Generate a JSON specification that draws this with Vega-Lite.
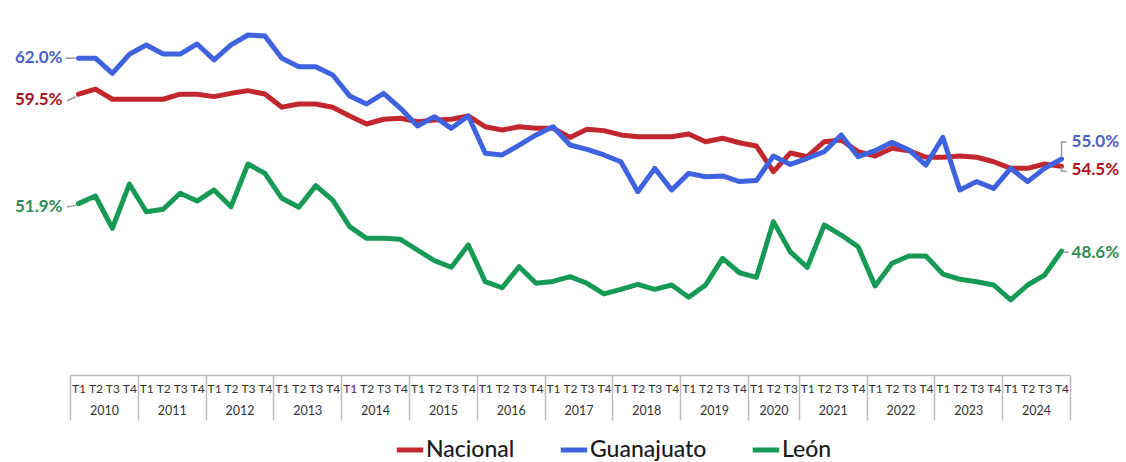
{
  "$schema": "https://vega.github.io/schema/vega-lite/v6.json",
  "width": 1000,
  "height": 360,
  "autosize": "none",
  "padding": {"left": 70, "top": 15, "right": 56, "bottom": 87},
  "background": "white",
  "config": {"view": {"stroke": null}, "font": "Lato"},
  "data": {"values": [
    {"s":"Nacional","i":0,"v":0.595},{"s":"Nacional","i":1,"v":0.5985},{"s":"Nacional","i":2,"v":0.5915},{"s":"Nacional","i":3,"v":0.5915},{"s":"Nacional","i":4,"v":0.5915},{"s":"Nacional","i":5,"v":0.5915},{"s":"Nacional","i":6,"v":0.595},{"s":"Nacional","i":7,"v":0.595},{"s":"Nacional","i":8,"v":0.5933},{"s":"Nacional","i":9,"v":0.5956},
    {"s":"Nacional","i":10,"v":0.5975},{"s":"Nacional","i":11,"v":0.5951},{"s":"Nacional","i":12,"v":0.586},{"s":"Nacional","i":13,"v":0.5882},{"s":"Nacional","i":14,"v":0.5882},{"s":"Nacional","i":15,"v":0.5859},{"s":"Nacional","i":16,"v":0.5799},{"s":"Nacional","i":17,"v":0.5743},{"s":"Nacional","i":18,"v":0.5776},{"s":"Nacional","i":19,"v":0.5783},
    {"s":"Nacional","i":20,"v":0.5759},{"s":"Nacional","i":21,"v":0.5771},{"s":"Nacional","i":22,"v":0.5776},{"s":"Nacional","i":23,"v":0.5799},{"s":"Nacional","i":24,"v":0.5724},{"s":"Nacional","i":25,"v":0.5701},{"s":"Nacional","i":26,"v":0.5724},{"s":"Nacional","i":27,"v":0.5713},{"s":"Nacional","i":28,"v":0.5713},{"s":"Nacional","i":29,"v":0.565},
    {"s":"Nacional","i":30,"v":0.5706},{"s":"Nacional","i":31,"v":0.5697},{"s":"Nacional","i":32,"v":0.5667},{"s":"Nacional","i":33,"v":0.5655},{"s":"Nacional","i":34,"v":0.5655},{"s":"Nacional","i":35,"v":0.5655},{"s":"Nacional","i":36,"v":0.5674},{"s":"Nacional","i":37,"v":0.562},{"s":"Nacional","i":38,"v":0.5644},{"s":"Nacional","i":39,"v":0.5613},
    {"s":"Nacional","i":40,"v":0.559},{"s":"Nacional","i":41,"v":0.5412},{"s":"Nacional","i":42,"v":0.5542},{"s":"Nacional","i":43,"v":0.5516},{"s":"Nacional","i":44,"v":0.562},{"s":"Nacional","i":45,"v":0.5632},{"s":"Nacional","i":46,"v":0.5551},{"s":"Nacional","i":47,"v":0.5521},{"s":"Nacional","i":48,"v":0.5574},{"s":"Nacional","i":49,"v":0.5558},
    {"s":"Nacional","i":50,"v":0.5512},{"s":"Nacional","i":51,"v":0.5512},{"s":"Nacional","i":52,"v":0.5521},{"s":"Nacional","i":53,"v":0.5512},{"s":"Nacional","i":54,"v":0.5481},{"s":"Nacional","i":55,"v":0.5435},{"s":"Nacional","i":56,"v":0.5435},{"s":"Nacional","i":57,"v":0.5465},{"s":"Nacional","i":58,"v":0.545},
    {"s":"Guanajuato","i":0,"v":0.62},{"s":"Guanajuato","i":1,"v":0.62},{"s":"Guanajuato","i":2,"v":0.6095},{"s":"Guanajuato","i":3,"v":0.6227},{"s":"Guanajuato","i":4,"v":0.6292},{"s":"Guanajuato","i":5,"v":0.6229},{"s":"Guanajuato","i":6,"v":0.6229},{"s":"Guanajuato","i":7,"v":0.6299},{"s":"Guanajuato","i":8,"v":0.6188},{"s":"Guanajuato","i":9,"v":0.6292},
    {"s":"Guanajuato","i":10,"v":0.6361},{"s":"Guanajuato","i":11,"v":0.6354},{"s":"Guanajuato","i":12,"v":0.6199},{"s":"Guanajuato","i":13,"v":0.6141},{"s":"Guanajuato","i":14,"v":0.6141},{"s":"Guanajuato","i":15,"v":0.6083},{"s":"Guanajuato","i":16,"v":0.5938},{"s":"Guanajuato","i":17,"v":0.5882},{"s":"Guanajuato","i":18,"v":0.5956},{"s":"Guanajuato","i":19,"v":0.5852},
    {"s":"Guanajuato","i":20,"v":0.5729},{"s":"Guanajuato","i":21,"v":0.5794},{"s":"Guanajuato","i":22,"v":0.5713},{"s":"Guanajuato","i":23,"v":0.5799},{"s":"Guanajuato","i":24,"v":0.554},{"s":"Guanajuato","i":25,"v":0.5528},{"s":"Guanajuato","i":26,"v":0.5597},{"s":"Guanajuato","i":27,"v":0.5667},{"s":"Guanajuato","i":28,"v":0.5724},{"s":"Guanajuato","i":29,"v":0.5597},
    {"s":"Guanajuato","i":30,"v":0.5567},{"s":"Guanajuato","i":31,"v":0.5528},{"s":"Guanajuato","i":32,"v":0.5481},{"s":"Guanajuato","i":33,"v":0.5273},{"s":"Guanajuato","i":34,"v":0.5435},{"s":"Guanajuato","i":35,"v":0.5285},{"s":"Guanajuato","i":36,"v":0.54},{"s":"Guanajuato","i":37,"v":0.5377},{"s":"Guanajuato","i":38,"v":0.5382},{"s":"Guanajuato","i":39,"v":0.5343},
    {"s":"Guanajuato","i":40,"v":0.535},{"s":"Guanajuato","i":41,"v":0.5521},{"s":"Guanajuato","i":42,"v":0.5462},{"s":"Guanajuato","i":43,"v":0.5505},{"s":"Guanajuato","i":44,"v":0.5551},{"s":"Guanajuato","i":45,"v":0.5667},{"s":"Guanajuato","i":46,"v":0.5516},{"s":"Guanajuato","i":47,"v":0.5558},{"s":"Guanajuato","i":48,"v":0.5616},{"s":"Guanajuato","i":49,"v":0.5563},
    {"s":"Guanajuato","i":50,"v":0.5458},{"s":"Guanajuato","i":51,"v":0.565},{"s":"Guanajuato","i":52,"v":0.5285},{"s":"Guanajuato","i":53,"v":0.5343},{"s":"Guanajuato","i":54,"v":0.5296},{"s":"Guanajuato","i":55,"v":0.5435},{"s":"Guanajuato","i":56,"v":0.5343},{"s":"Guanajuato","i":57,"v":0.5435},{"s":"Guanajuato","i":58,"v":0.55},
    {"s":"León","i":0,"v":0.519},{"s":"León","i":1,"v":0.5243},{"s":"León","i":2,"v":0.5019},{"s":"León","i":3,"v":0.5326},{"s":"León","i":4,"v":0.5134},{"s":"León","i":5,"v":0.5151},{"s":"León","i":6,"v":0.5262},{"s":"León","i":7,"v":0.5208},{"s":"León","i":8,"v":0.5285},{"s":"León","i":9,"v":0.5169},
    {"s":"León","i":10,"v":0.5465},{"s":"León","i":11,"v":0.54},{"s":"León","i":12,"v":0.5227},{"s":"León","i":13,"v":0.5165},{"s":"León","i":14,"v":0.5315},{"s":"León","i":15,"v":0.5215},{"s":"León","i":16,"v":0.503},{"s":"León","i":17,"v":0.4949},{"s":"León","i":18,"v":0.4949},{"s":"León","i":19,"v":0.4942},
    {"s":"León","i":20,"v":0.4868},{"s":"León","i":21,"v":0.4794},{"s":"León","i":22,"v":0.4748},{"s":"León","i":23,"v":0.4903},{"s":"León","i":24,"v":0.4648},{"s":"León","i":25,"v":0.4606},{"s":"León","i":26,"v":0.4752},{"s":"León","i":27,"v":0.4637},{"s":"León","i":28,"v":0.465},{"s":"León","i":29,"v":0.4683},
    {"s":"León","i":30,"v":0.4637},{"s":"León","i":31,"v":0.4563},{"s":"León","i":32,"v":0.4595},{"s":"León","i":33,"v":0.463},{"s":"León","i":34,"v":0.4595},{"s":"León","i":35,"v":0.4625},{"s":"León","i":36,"v":0.454},{"s":"León","i":37,"v":0.4625},{"s":"León","i":38,"v":0.481},{"s":"León","i":39,"v":0.471},
    {"s":"León","i":40,"v":0.4678},{"s":"León","i":41,"v":0.5065},{"s":"León","i":42,"v":0.4855},{"s":"León","i":43,"v":0.4748},{"s":"León","i":44,"v":0.5042},{"s":"León","i":45,"v":0.4972},{"s":"León","i":46,"v":0.4891},{"s":"León","i":47,"v":0.4618},{"s":"León","i":48,"v":0.4776},{"s":"León","i":49,"v":0.4826},
    {"s":"León","i":50,"v":0.4826},{"s":"León","i":51,"v":0.4701},{"s":"León","i":52,"v":0.4665},{"s":"León","i":53,"v":0.4648},{"s":"León","i":54,"v":0.4625},{"s":"León","i":55,"v":0.4521},{"s":"León","i":56,"v":0.4625},{"s":"León","i":57,"v":0.4694},{"s":"León","i":58,"v":0.486}
  ]},
  "layer": [
    {
      "mark": {"type": "line", "strokeWidth": 5, "strokeJoin": "round", "strokeCap": "round"},
      "encoding": {
        "x": {"field": "i", "type": "quantitative", "scale": {"domain": [-0.5, 58.5], "nice": false, "zero": false},
          "axis": {"orient": "bottom", "values": [0,1,2,3,4,5,6,7,8,9,10,11,12,13,14,15,16,17,18,19,20,21,22,23,24,25,26,27,28,29,30,31,32,33,34,35,36,37,38,39,40,41,42,43,44,45,46,47,48,49,50,51,52,53,54,55,56,57,58],
            "labelExpr": "datum.value < 40 ? 'T' + (datum.value % 4 + 1) : datum.value < 43 ? 'T' + (datum.value - 39) : 'T' + ((datum.value - 43) % 4 + 1)",
            "ticks": false, "grid": false, "domain": true, "domainColor": "#bdbdbd", "domainWidth": 1.5,
            "labelFont": "Lato", "labelFontSize": 12, "labelColor": "#333333", "labelPadding": 8, "labelBaseline": "top",
            "labelAngle": 0, "labelOverlap": false, "labelFlush": false, "labelBound": false, "title": null}},
        "y": {"field": "v", "type": "quantitative", "scale": {"domain": [0.4, 0.65], "nice": false, "zero": false},
          "axis": {"values": [0.45, 0.5, 0.55, 0.6, 0.65], "grid": true, "gridColor": "#b3b3b3", "gridWidth": 1.5, "labels": false, "ticks": false, "domain": false, "title": null}},
        "color": {"field": "s", "type": "nominal",
          "scale": {"domain": ["Nacional", "Guanajuato", "León"], "range": ["#C1272D", "#3F63DF", "#179A56"]},
          "legend": {"orient": "none", "legendX": 324, "legendY": 419, "direction": "horizontal", "title": null,
            "symbolType": "stroke", "symbolStrokeWidth": 5, "symbolSize": 700, "labelFont": "Lato", "labelFontSize": 23, "labelFontWeight": 500,
            "labelColor": "#1a1a1a", "columnPadding": 35, "labelOffset": 0, "padding": 0, "rowPadding": 0}}
      }
    },
    {
      "transform": [{"filter": "datum.i == 0 && datum.s == 'Guanajuato'"}],
      "mark": {"type": "rule", "color": "#999999", "strokeWidth": 1.5, "xOffset": -3, "x2Offset": -13, "yOffset": 0, "y2Offset": 0},
      "encoding": {
        "x": {"field": "i", "type": "quantitative", "scale": {"domain": [-0.5, 58.5], "nice": false, "zero": false},
          "axis": {"orient": "bottom", "values": [-0.5, 3.5, 7.5, 11.5, 15.5, 19.5, 23.5, 27.5, 31.5, 35.5, 39.5, 42.5, 46.5, 50.5, 54.5, 58.5],
            "ticks": true, "tickSize": 45, "tickColor": "#bdbdbd", "tickWidth": 1.5, "labels": false, "domain": false, "grid": false, "title": null}},
        "x2": {"field": "i"},
        "y": {"field": "v", "type": "quantitative", "scale": {"domain": [0.4, 0.65], "nice": false, "zero": false}, "axis": null},
        "y2": {"field": "v"}
      }
    },
    {
      "transform": [{"filter": "datum.i == 0 && datum.s == 'Nacional'"}],
      "mark": {"type": "rule", "color": "#999999", "strokeWidth": 1.5, "xOffset": -2.5, "x2Offset": -11.5, "yOffset": 2.5, "y2Offset": 6.5},
      "encoding": {
        "x": {"field": "i", "type": "quantitative", "scale": {"domain": [-0.5, 58.5], "nice": false, "zero": false}, "axis": null},
        "x2": {"field": "i"},
        "y": {"field": "v", "type": "quantitative", "scale": {"domain": [0.4, 0.65], "nice": false, "zero": false}, "axis": null},
        "y2": {"field": "v"}
      }
    },
    {
      "transform": [{"filter": "datum.i == 0 && datum.s == 'León'"}],
      "mark": {"type": "rule", "color": "#999999", "strokeWidth": 1.5, "xOffset": -2.5, "x2Offset": -11.5, "yOffset": 1.5, "y2Offset": 3.5},
      "encoding": {
        "x": {"field": "i", "type": "quantitative", "scale": {"domain": [-0.5, 58.5], "nice": false, "zero": false}, "axis": null},
        "x2": {"field": "i"},
        "y": {"field": "v", "type": "quantitative", "scale": {"domain": [0.4, 0.65], "nice": false, "zero": false}, "axis": null},
        "y2": {"field": "v"}
      }
    },
    {
      "transform": [{"filter": "datum.i == 0 && datum.s == 'Guanajuato'"}],
      "mark": {"type": "text", "align": "right", "baseline": "middle", "dx": -16, "dy": 0, "font": "Lato", "fontWeight": "bold", "fontSize": 17, "color": "#4B61C3"},
      "encoding": {
        "x": {"field": "i", "type": "quantitative", "scale": {"domain": [-0.5, 58.5], "nice": false, "zero": false}, "axis": null},
        "y": {"field": "v", "type": "quantitative", "scale": {"domain": [0.4, 0.65], "nice": false, "zero": false}, "axis": null},
        "text": {"field": "v", "type": "quantitative", "format": ".1%"}
      }
    },
    {
      "transform": [{"filter": "datum.i == 0 && datum.s == 'Nacional'"}],
      "mark": {"type": "text", "align": "right", "baseline": "middle", "dx": -16, "dy": 6, "font": "Lato", "fontWeight": "bold", "fontSize": 17, "color": "#A8101E"},
      "encoding": {
        "x": {"field": "i", "type": "quantitative", "scale": {"domain": [-0.5, 58.5], "nice": false, "zero": false}, "axis": null},
        "y": {"field": "v", "type": "quantitative", "scale": {"domain": [0.4, 0.65], "nice": false, "zero": false}, "axis": null},
        "text": {"field": "v", "type": "quantitative", "format": ".1%"}
      }
    },
    {
      "transform": [{"filter": "datum.i == 0 && datum.s == 'León'"}],
      "mark": {"type": "text", "align": "right", "baseline": "middle", "dx": -16, "dy": 3, "font": "Lato", "fontWeight": "bold", "fontSize": 17, "color": "#2F8C5A"},
      "encoding": {
        "x": {"field": "i", "type": "quantitative", "scale": {"domain": [-0.5, 58.5], "nice": false, "zero": false}, "axis": null},
        "y": {"field": "v", "type": "quantitative", "scale": {"domain": [0.4, 0.65], "nice": false, "zero": false}, "axis": null},
        "text": {"field": "v", "type": "quantitative", "format": ".1%"}
      }
    },
    {
      "transform": [{"filter": "datum.i == 58 && datum.s == 'Guanajuato'"}],
      "mark": {"type": "text", "align": "left", "baseline": "middle", "dx": 10, "dy": -17, "font": "Lato", "fontWeight": "bold", "fontSize": 17, "color": "#4B61C3"},
      "encoding": {
        "x": {"field": "i", "type": "quantitative", "scale": {"domain": [-0.5, 58.5], "nice": false, "zero": false},
          "axis": {"orient": "bottom", "values": [1.5, 5.5, 9.5, 13.5, 17.5, 21.5, 25.5, 29.5, 33.5, 37.5, 41, 44.5, 48.5, 52.5, 56.5],
            "labelExpr": "datum.value < 40 ? '' + (2010 + floor(datum.value / 4)) : datum.value < 43 ? '2020' : '' + (2021 + floor((datum.value - 43) / 4))",
            "ticks": false, "domain": false, "grid": false, "labelFont": "Lato", "labelFontSize": 12.5, "labelColor": "#333333",
            "labelPadding": 29, "labelBaseline": "top", "labelAngle": 0, "labelOverlap": false, "labelFlush": false, "labelBound": false, "title": null}},
        "y": {"field": "v", "type": "quantitative", "scale": {"domain": [0.4, 0.65], "nice": false, "zero": false}, "axis": null},
        "text": {"field": "v", "type": "quantitative", "format": ".1%"}
      }
    },
    {
      "transform": [{"filter": "datum.i == 58 && datum.s == 'Nacional'"}],
      "mark": {"type": "text", "align": "left", "baseline": "middle", "dx": 10, "dy": 4, "font": "Lato", "fontWeight": "bold", "fontSize": 17, "color": "#B0121E"},
      "encoding": {
        "x": {"field": "i", "type": "quantitative", "scale": {"domain": [-0.5, 58.5], "nice": false, "zero": false}, "axis": null},
        "y": {"field": "v", "type": "quantitative", "scale": {"domain": [0.4, 0.65], "nice": false, "zero": false}, "axis": null},
        "text": {"field": "v", "type": "quantitative", "format": ".1%"}
      }
    },
    {
      "transform": [{"filter": "datum.i == 58 && datum.s == 'León'"}],
      "mark": {"type": "text", "align": "left", "baseline": "middle", "dx": 10, "dy": 2, "font": "Lato", "fontWeight": "bold", "fontSize": 17, "color": "#2F8C5A"},
      "encoding": {
        "x": {"field": "i", "type": "quantitative", "scale": {"domain": [-0.5, 58.5], "nice": false, "zero": false}, "axis": null},
        "y": {"field": "v", "type": "quantitative", "scale": {"domain": [0.4, 0.65], "nice": false, "zero": false}, "axis": null},
        "text": {"field": "v", "type": "quantitative", "format": ".1%"}
      }
    },
    {
      "transform": [{"filter": "datum.i == 58 && datum.s == 'Guanajuato'"}],
      "mark": {"type": "rule", "color": "#999999", "strokeWidth": 1.5, "xOffset": 0, "x2Offset": 0, "yOffset": -3, "y2Offset": -17},
      "encoding": {
        "x": {"field": "i", "type": "quantitative", "scale": {"domain": [-0.5, 58.5], "nice": false, "zero": false}, "axis": null},
        "x2": {"field": "i"},
        "y": {"field": "v", "type": "quantitative", "scale": {"domain": [0.4, 0.65], "nice": false, "zero": false}, "axis": null},
        "y2": {"field": "v"}
      }
    },
    {
      "transform": [{"filter": "datum.i == 58 && datum.s == 'Guanajuato'"}],
      "mark": {"type": "rule", "color": "#999999", "strokeWidth": 1.5, "xOffset": -0.75, "x2Offset": 5, "yOffset": -17, "y2Offset": -17},
      "encoding": {
        "x": {"field": "i", "type": "quantitative", "scale": {"domain": [-0.5, 58.5], "nice": false, "zero": false}, "axis": null},
        "x2": {"field": "i"},
        "y": {"field": "v", "type": "quantitative", "scale": {"domain": [0.4, 0.65], "nice": false, "zero": false}, "axis": null},
        "y2": {"field": "v"}
      }
    },
    {
      "transform": [{"filter": "datum.i == 58 && datum.s == 'Nacional'"}],
      "mark": {"type": "rule", "color": "#999999", "strokeWidth": 1.5, "xOffset": 0, "x2Offset": 0, "yOffset": 1, "y2Offset": 5},
      "encoding": {
        "x": {"field": "i", "type": "quantitative", "scale": {"domain": [-0.5, 58.5], "nice": false, "zero": false}, "axis": null},
        "x2": {"field": "i"},
        "y": {"field": "v", "type": "quantitative", "scale": {"domain": [0.4, 0.65], "nice": false, "zero": false}, "axis": null},
        "y2": {"field": "v"}
      }
    },
    {
      "transform": [{"filter": "datum.i == 58 && datum.s == 'Nacional'"}],
      "mark": {"type": "rule", "color": "#999999", "strokeWidth": 1.5, "xOffset": -0.75, "x2Offset": 5, "yOffset": 5, "y2Offset": 5},
      "encoding": {
        "x": {"field": "i", "type": "quantitative", "scale": {"domain": [-0.5, 58.5], "nice": false, "zero": false}, "axis": null},
        "x2": {"field": "i"},
        "y": {"field": "v", "type": "quantitative", "scale": {"domain": [0.4, 0.65], "nice": false, "zero": false}, "axis": null},
        "y2": {"field": "v"}
      }
    },
    {
      "transform": [{"filter": "datum.i == 58 && datum.s == 'León'"}],
      "mark": {"type": "rule", "color": "#999999", "strokeWidth": 1.5, "xOffset": 2, "x2Offset": 7, "yOffset": 1, "y2Offset": 1},
      "encoding": {
        "x": {"field": "i", "type": "quantitative", "scale": {"domain": [-0.5, 58.5], "nice": false, "zero": false}, "axis": null},
        "x2": {"field": "i"},
        "y": {"field": "v", "type": "quantitative", "scale": {"domain": [0.4, 0.65], "nice": false, "zero": false}, "axis": null},
        "y2": {"field": "v"}
      }
    }
  ],
  "resolve": {"axis": {"x": "independent"}}
}
